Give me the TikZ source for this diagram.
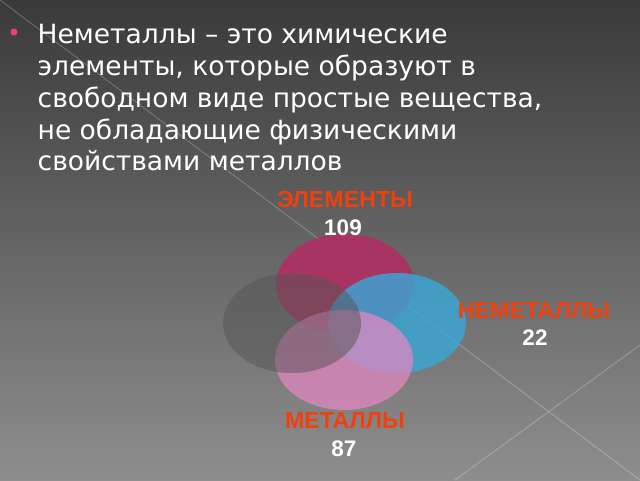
\documentclass[tikz,border=0pt]{standalone}
\usepackage{fontspec}
\setmainfont{DejaVu Sans}
\newfontfamily\labfont{Liberation Sans}
\usetikzlibrary{shapes.geometric}
\definecolor{bgtop}{HTML}{3A3A3A}
\definecolor{bgbot}{HTML}{8E8E8E}
\definecolor{crim}{HTML}{B02F62}
\definecolor{sky}{HTML}{38A8D8}
\definecolor{rose}{HTML}{E088C0}
\definecolor{smoke}{HTML}{555555}
\definecolor{lab}{HTML}{F04010}
\definecolor{bul}{HTML}{F0407A}
\tikzset{
  bodyline/.style={anchor=base west, inner sep=0pt, text=white, font=\fontsize{26.5}{30}\selectfont},
  lbl/.style={inner sep=0pt, text=lab, font=\labfont\bfseries\fontsize{23.2}{25}\selectfont},
  num/.style={inner sep=0pt, text=white, font=\labfont\bfseries\fontsize{22.5}{24}\selectfont},
  ell/.style={ellipse, minimum width=138pt, minimum height=100pt, inner sep=0pt, draw=none},
  faint/.style={white, opacity=0.22, line width=1pt}
}
\begin{document}
\begin{tikzpicture}[x=1pt,y=-1pt]
\useasboundingbox (0,0) rectangle (640,480);
\shade[top color=bgtop, bottom color=bgbot] (0,0) rectangle (640,480);
\coordinate (d1) at (0,0);
\coordinate (d2) at (640,480);
\coordinate (d3) at (640,345);
\coordinate (d4) at (455,480);
\draw[faint] (d1) -- (d2);
\draw[faint] (d3) -- (d4);
\fill[bul] (14,32) circle (3.5pt);
\node[bodyline] (l1) at (37.5,43) {Неметаллы – это химические};
\node[bodyline] (l2) at (37.5,75.3) {элементы, которые образуют в};
\node[bodyline] (l3) at (37.5,107) {свободном виде простые вещества,};
\node[bodyline] (l4) at (37.5,139) {не обладающие физическими};
\node[bodyline] (l5) at (37.5,170.5) {свойствами металлов};
\node[ell, fill=crim, fill opacity=0.9] (top) at (345,284) {};
\node[ell, fill=sky, fill opacity=0.8] (blue) at (397,323) {};
\node[ell, fill=rose, fill opacity=0.75] (pink) at (344,360) {};
\node[ell, fill=smoke, fill opacity=0.5] (gray) at (292,323) {};
\node[lbl] (le) at (345,200) {ЭЛЕМЕНТЫ};
\node[num] (ne) at (343,228) {109};
\node[lbl] (ln) at (534,311) {НЕМЕТАЛЛЫ};
\node[num] (nn) at (535,338) {22};
\node[lbl] (lm) at (345,421) {МЕТАЛЛЫ};
\node[num] (nm) at (344,449) {87};
\end{tikzpicture}
\end{document}
